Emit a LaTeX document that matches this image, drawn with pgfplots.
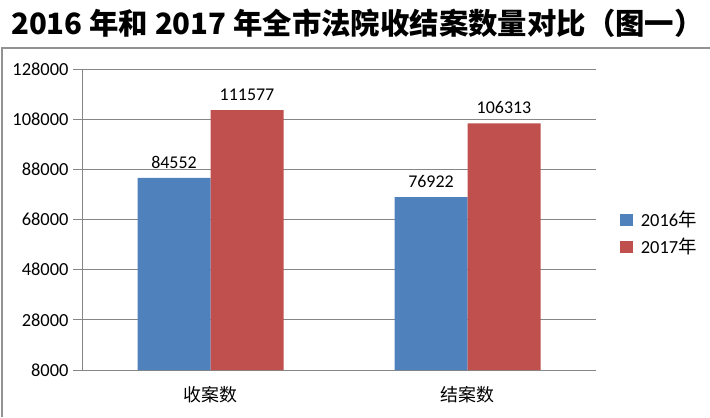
\documentclass[border=0pt]{standalone}
\usepackage{pgfplots}
\pgfplotsset{compat=1.18}
\usepackage{fontspec}
\setmainfont{Carlito}
\newfontfamily\cjk{Noto Sans CJK SC}
\definecolor{cblue}{HTML}{4F81BD}
\definecolor{cred}{HTML}{C0504D}
\definecolor{cgrid}{HTML}{868686}
\begin{document}
\begin{tikzpicture}[x=1bp,y=1bp]
\useasboundingbox (0,0) rectangle (710,417);
\fill[white] (0,0) rectangle (710,417);
\node[anchor=west, font=\cjk\bfseries\fontsize{29.5}{30}\selectfont, inner sep=0] at (11,394) {2016 年和 2017 年全市法院收结案数量对比（图一）};
\draw[cgrid!90, line width=1.2bp] (2,0) -- (2,369) -- (710,369);
\begin{axis}[
  at={(82bp,47bp)}, anchor=south west,
  scale only axis, width=514bp, height=301bp,
  xmin=-0.5, xmax=1.5, ymin=8000, ymax=128000,
  ybar=0pt, bar width=73bp,
  ytick={8000,28000,48000,68000,88000,108000,128000},
  xtick={0,1}, xticklabels={收案数,结案数},
  xticklabel style={font=\cjk\fontsize{18}{18}\selectfont, yshift=-4bp},
  x tick style={draw=none},
  extra x ticks={-0.5,0.5,1.5}, extra x tick labels={{},{},{}},
  extra x tick style={major tick length=9bp, tick style={draw=cgrid, line width=0.8bp}, grid=none},
  tick align=outside,
  y tick style={draw=cgrid, line width=0.8bp}, major tick length=9bp,
  axis x line*=bottom, axis y line*=left,
  axis line style={draw=cgrid, line width=0.8bp, -},
  ymajorgrids, grid style={draw=cgrid, line width=0.8bp},
  scaled y ticks=false,
  /pgf/number format/fixed, /pgf/number format/precision=0,
  /pgf/number format/1000 sep={},
  /pgf/number format/assume math mode=true,
  yticklabel style={font=\fontsize{18.5}{19}\selectfont, xshift=-1bp},
  nodes near coords,
  every node near coord/.append style={font=\fontsize{18}{18}\selectfont, anchor=south, yshift=6bp, text=black},
  legend style={draw=none, fill=none, at={(1.047,0.455)}, anchor=west,
    font=\fontsize{18.5}{19}\selectfont, row sep=6bp, inner sep=0pt},
  legend image code/.code={\fill[#1, draw=none] (0bp,-6bp) rectangle (12.5bp,6bp);},
  legend cell align=left,
]
\addplot[fill=cblue, draw=none] coordinates {(0,84552) (1,76922)};
\addplot[fill=cred, draw=none] coordinates {(0,111577) (1,106313)};
\legend{\hspace{6bp}2016{\cjk 年},\hspace{6bp}2017{\cjk 年}}
\end{axis}
\end{tikzpicture}
\end{document}
